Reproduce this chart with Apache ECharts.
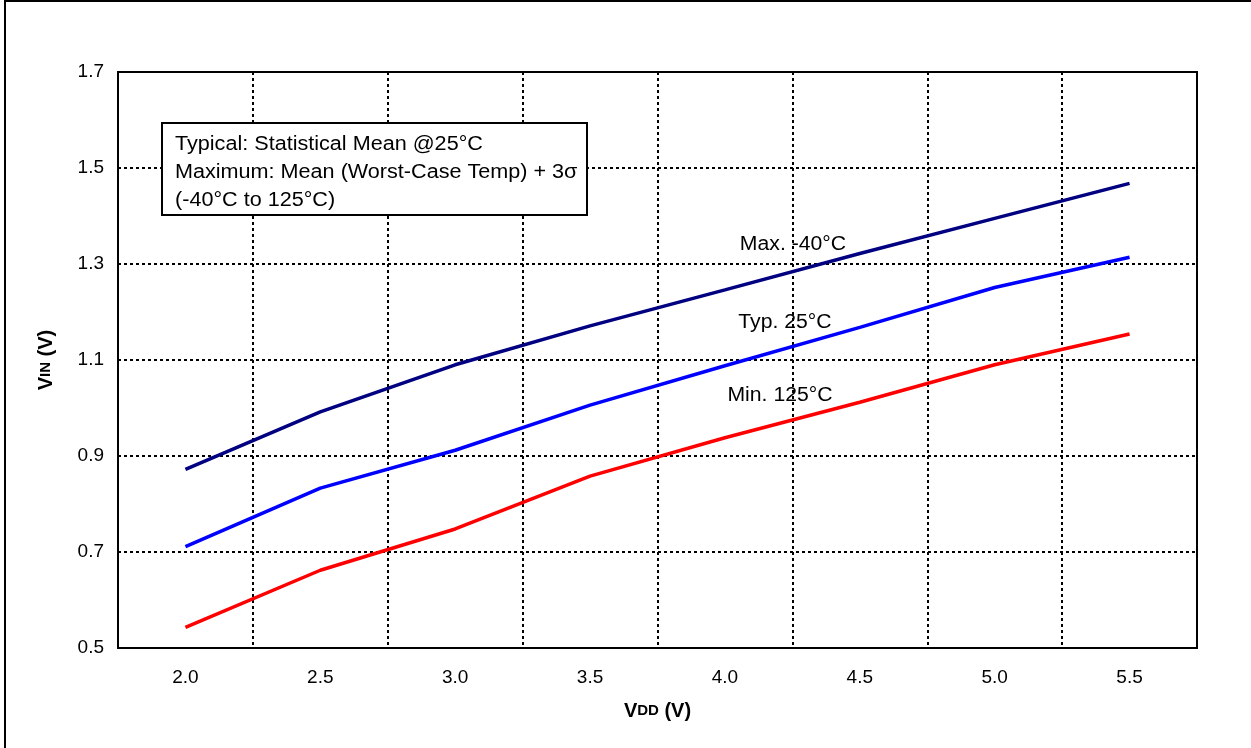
<!DOCTYPE html>
<html>
<head>
<meta charset="utf-8">
<script src="https://cdn.jsdelivr.net/npm/echarts@6/dist/echarts.min.js"></script>
<style>
html,body{margin:0;padding:0;background:#fff;}
#c{width:1251px;height:748px;}
</style>
</head>
<body>
<div id="c"></div>
<script>
const categories = ['2.0','2.5','3.0','3.5','4.0','4.5','5.0','5.5'];
const maxMinus40 = [0.872, 0.992, 1.090, 1.171, 1.246, 1.322, 1.395, 1.468];
const typ25 = [0.711, 0.833, 0.912, 1.006, 1.088, 1.168, 1.251, 1.314];
const min125 = [0.543, 0.662, 0.748, 0.858, 0.938, 1.012, 1.090, 1.154];
const yTicks = [0.5, 0.7, 0.9, 1.1, 1.3, 1.5, 1.7];

const FONT = '"Liberation Sans", Arial, sans-serif';
const chart = echarts.init(document.getElementById('c'));
const dotted = {color:'#000', width:2, type:[3,3]};
const richName = {
  a:{fontSize:20, fontWeight:'bold', fontFamily:FONT, color:'#000'},
  b:{fontSize:15, fontWeight:'bold', fontFamily:FONT, color:'#000'}
};

chart.setOption({
  animation:false,
  backgroundColor:'#fff',
  grid:{left:118, top:72, right:54, bottom:100, show:true, borderColor:'#000', borderWidth:2, backgroundColor:'transparent'},
  xAxis:{
    type:'category', data:categories, boundaryGap:true,
    axisLine:{show:true, lineStyle:{color:'#000', width:2}},
    axisTick:{show:false},
    axisLabel:{color:'#000', fontSize:19, fontFamily:FONT, margin:20},
    splitLine:{show:true, lineStyle:dotted},
    name:'{a|V}{b|DD}{a| (V)}', nameLocation:'middle', nameGap:53,
    nameTextStyle:{rich:richName}
  },
  yAxis:{
    type:'value', min:yTicks[0], max:yTicks[yTicks.length-1], interval:0.2,
    axisLine:{show:true, lineStyle:{color:'#000', width:2}},
    axisTick:{show:false},
    axisLabel:{color:'#000', fontSize:19, fontFamily:FONT, margin:14, formatter:v=>v.toFixed(1)},
    splitLine:{show:true, lineStyle:dotted},
    name:'{a|V}{b|IN}{a| (V)}', nameLocation:'middle', nameGap:62,
    nameTextStyle:{rich:richName}
  },
  series:[
    {name:'Max. -40°C', type:'line', data:maxMinus40, symbol:'none', lineStyle:{color:'#000080', width:3.5}, z:3},
    {name:'Typ. 25°C', type:'line', data:typ25, symbol:'none', lineStyle:{color:'#0000FF', width:3.5}, z:3},
    {name:'Min. 125°C', type:'line', data:min125, symbol:'none', lineStyle:{color:'#FF0000', width:3.5}, z:3}
  ],
  graphic:[
    {type:'line', shape:{x1:5, y1:1, x2:1251, y2:1}, style:{stroke:'#000', lineWidth:2}},
    {type:'line', shape:{x1:5, y1:0, x2:5, y2:748}, style:{stroke:'#000', lineWidth:2}},
    {type:'rect', shape:{x:162, y:123, width:425, height:92}, style:{fill:'#fff', stroke:'#000', lineWidth:2}, z:10},
    {type:'text', x:175, y:130, scaleX:1.08, z:11, style:{text:'Typical: Statistical Mean @25°C\nMaximum: Mean (Worst-Case Temp) + 3σ\n(-40°C to 125°C)', font:'20px '+FONT, fill:'#000', lineHeight:28}},
    {type:'text', x:793, y:244, scaleX:1.06, z:11, style:{text:'Max. -40°C', font:'20px '+FONT, fill:'#000', align:'center', verticalAlign:'middle'}},
    {type:'text', x:785, y:322, scaleX:1.06, z:11, style:{text:'Typ. 25°C', font:'20px '+FONT, fill:'#000', align:'center', verticalAlign:'middle'}},
    {type:'text', x:780, y:395, scaleX:1.06, z:11, style:{text:'Min. 125°C', font:'20px '+FONT, fill:'#000', align:'center', verticalAlign:'middle'}}
  ]
});
</script>
</body>
</html>
